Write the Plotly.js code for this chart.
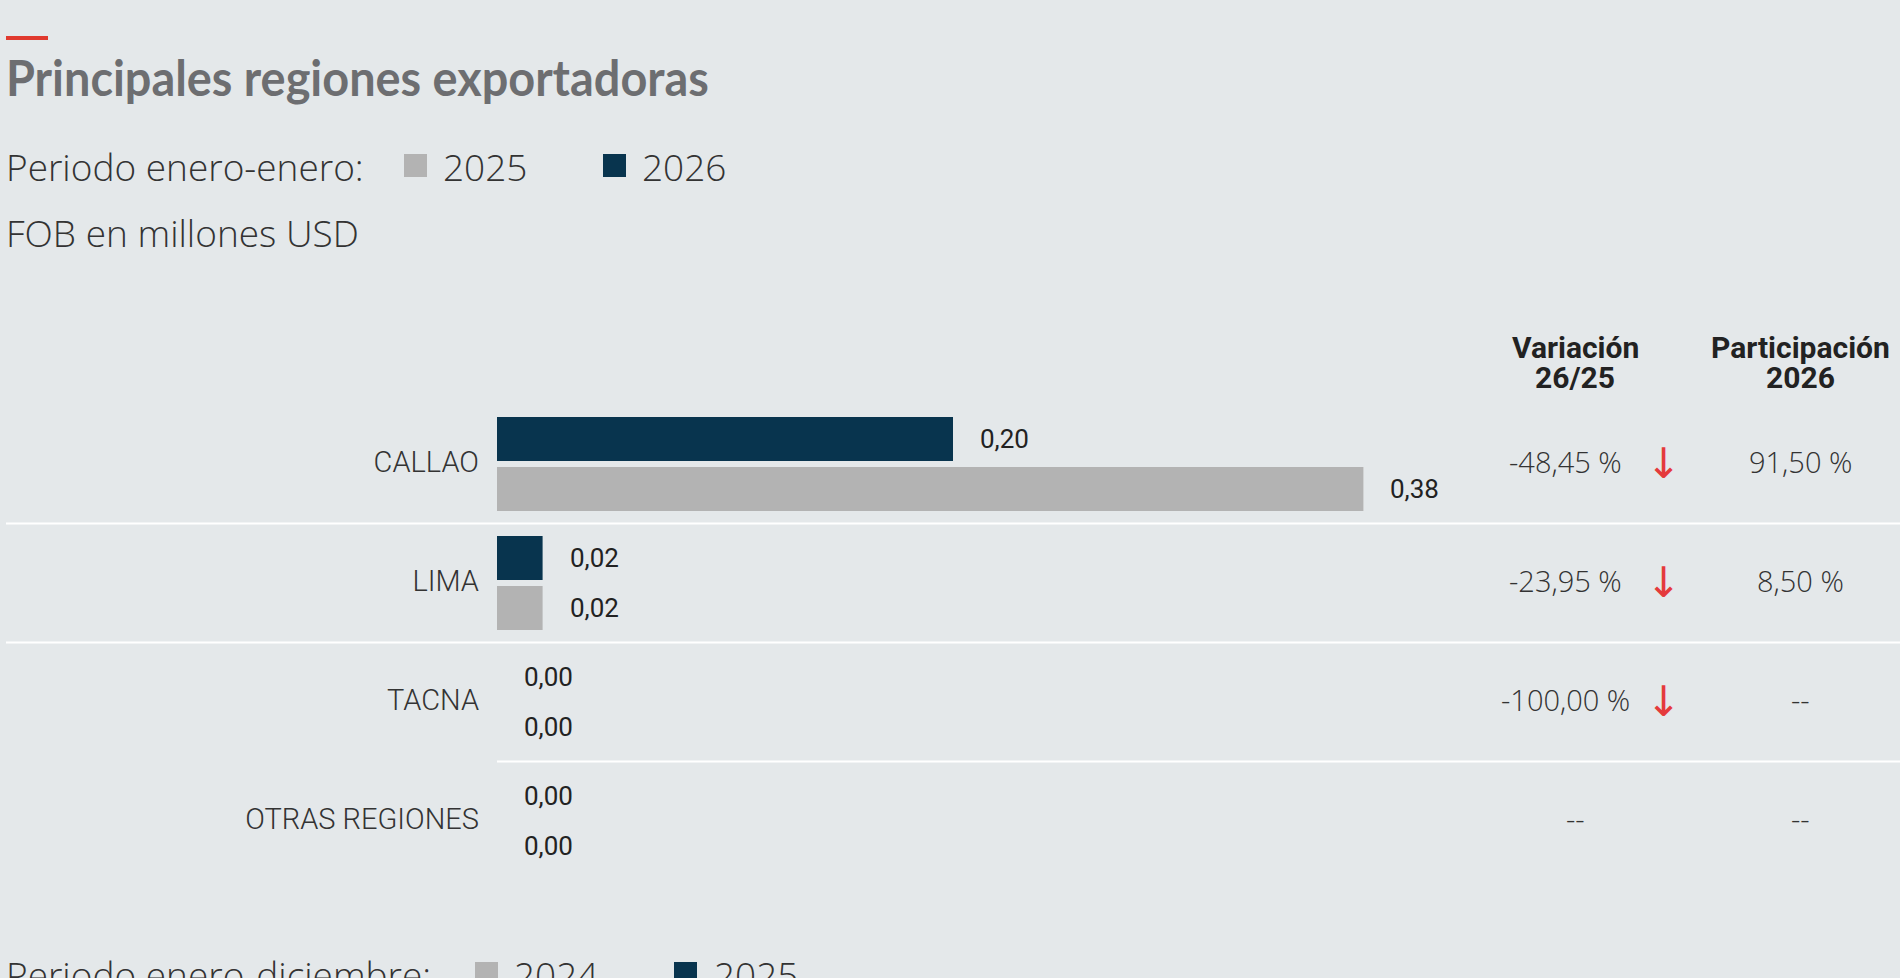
<!DOCTYPE html>
<html><head><meta charset="utf-8">
<script src="https://cdn.plot.ly/plotly-3.0.1.min.js"></script>
<style>html,body{margin:0;padding:0;background:#e4e8ea;overflow:hidden;}</style>
</head><body><div id="chart" style="width:1900px;height:978px;"></div>
<script>
// ---- data ----
const regiones = ['CALLAO', 'LIMA', 'TACNA', 'OTRAS REGIONES'];
const valores2026 = [0.20, 0.02, 0.00, 0.00];
const valores2025 = [0.38, 0.02, 0.00, 0.00];
const variacion = ['-48,45 %', '-23,95 %', '-100,00 %', '--'];
const tendencia = ['baja', 'baja', 'baja', ''];
const participacion = ['91,50 %', '8,50 %', '--', '--'];
const aniosPeriodo = ['2025', '2026'];
const aniosPeriodoAnual = ['2024', '2025'];
const tituloTexto = 'Principales regiones exportadoras';
const periodoTexto = 'Periodo enero-enero:';
const periodoAnualTexto = 'Periodo enero-diciembre:';
const unidadTexto = 'FOB en millones USD';
const cabeceraVariacion = ['Variación', '26/25'];
const cabeceraParticipacion = ['Participación', '2026'];

// ---- style ----
const W = 1900, H = 978;
const BG = '#e4e8ea';
const NAVY = '#08344e', GRAY = '#b3b3b3', RED = '#e03a2f', ARROW = '#e43a3c';
const TXT = '#333333';
const LIGHT = {family: 'Open Sans, Roboto, sans-serif', weight: 300, color: TXT};
const px = x => x / W;
const py = y => 1 - y / H;
const fmt = v => v.toFixed(2).replace('.', ',');

const traces = [
  {type: 'bar', orientation: 'h', name: aniosPeriodo[1], y: regiones, x: valores2026,
   marker: {color: NAVY}, hoverinfo: 'none'},
  {type: 'bar', orientation: 'h', name: aniosPeriodo[0], y: regiones, x: valores2025,
   marker: {color: GRAY}, hoverinfo: 'none'}
];

const annotations = [];
const shapes = [];

// red accent
shapes.push({type: 'rect', xref: 'paper', yref: 'paper', x0: px(6), x1: px(48), y0: py(36), y1: py(40),
  fillcolor: RED, line: {width: 0}});

// legend rows
function legendRow(label, years, yc, sqX, txtX) {
  annotations.push({xref: 'paper', yref: 'paper', x: px(4), y: py(yc), xanchor: 'left', yanchor: 'middle',
    text: label, showarrow: false, font: Object.assign({size: 37}, LIGHT)});
  const cols = [GRAY, NAVY];
  years.forEach((yr, i) => {
    shapes.push({type: 'rect', xref: 'paper', yref: 'paper', x0: px(sqX[i]), x1: px(sqX[i] + 23),
      y0: py(yc - 12), y1: py(yc + 11), fillcolor: cols[i], line: {width: 0}});
    annotations.push({xref: 'paper', yref: 'paper', x: px(txtX[i]), y: py(yc), xanchor: 'left', yanchor: 'middle',
      text: yr, showarrow: false, font: Object.assign({size: 37}, LIGHT)});
  });
}
legendRow(periodoTexto, aniosPeriodo, 166, [404, 603], [441, 640]);
legendRow(periodoAnualTexto, aniosPeriodoAnual, 974, [475, 674], [512, 712]);

annotations.push({xref: 'paper', yref: 'paper', x: px(4), y: py(232), xanchor: 'left', yanchor: 'middle',
  text: unidadTexto, showarrow: false, font: Object.assign({size: 37}, LIGHT)});

// column headers (one annotation per line for tight spacing)
const HEADFONT = {family: 'Roboto, sans-serif', size: 30, weight: 700, color: '#222222'};
[[cabeceraVariacion, 1575], [cabeceraParticipacion, 1800]].forEach(([lines, cx]) => {
  lines.forEach((t, k) => {
    annotations.push({xref: 'paper', yref: 'paper', x: px(cx), y: py(347 + 30 * k), xanchor: 'center', yanchor: 'middle',
      text: t, showarrow: false, font: HEADFONT});
  });
});

// per-row items
regiones.forEach((r, i) => {
  [[valores2026, -0.21], [valores2025, 0.21]].forEach(([arr, off]) => {
    annotations.push({xref: 'x', yref: 'y', x: arr[i], y: i + off, xanchor: 'left', yanchor: 'middle',
      xshift: 25, text: fmt(arr[i]), showarrow: false,
      font: {family: 'Roboto, sans-serif', size: 26, weight: 400, color: '#222222'}});
  });
  annotations.push({xref: 'paper', yref: 'y', x: px(tendencia[i] ? 1565 : 1575), y: i, yshift: 3,
    xanchor: 'center', yanchor: 'middle',
    text: variacion[i], showarrow: false, font: Object.assign({size: 29}, LIGHT)});
  if (tendencia[i] === 'baja') {
    annotations.push({xref: 'paper', yref: 'y', x: px(1663), y: i, yshift: 1, xanchor: 'center', yanchor: 'middle',
      text: '↓', showarrow: false, font: {family: 'Roboto, DejaVu Sans, sans-serif', size: 42, color: ARROW}});
  }
  annotations.push({xref: 'paper', yref: 'y', x: px(1800), y: i, yshift: 3, xanchor: 'center', yanchor: 'middle',
    text: participacion[i], showarrow: false, font: Object.assign({size: 29}, LIGHT)});
  if (i < regiones.length - 1) {
    shapes.push({type: 'line', xref: 'paper', yref: 'y', x0: i < 2 ? px(6) : px(497), x1: 1,
      y0: i + 0.5, y1: i + 0.5, line: {color: '#ffffff', width: 2}});
  }
});

const layout = {
  width: W, height: H,
  paper_bgcolor: BG, plot_bgcolor: BG,
  margin: {l: 0, r: 0, t: 0, b: 0, pad: 0},
  showlegend: false,
  barmode: 'group', bargap: 0.16, bargroupgap: 0.12,
  title: {text: tituloTexto, x: px(6), xanchor: 'left', xref: 'paper', y: py(79), yref: 'paper', yanchor: 'middle',
    font: {family: 'Lato, Roboto, sans-serif', size: 49, weight: 700, color: '#6d6e71'}},
  xaxis: {domain: [px(497), 1], range: [0, 1403 / 2280], visible: false, fixedrange: true},
  yaxis: {type: 'category', domain: [py(880.5), py(404.5)], range: [3.5, -0.5],
    showgrid: false, zeroline: false, showline: false, ticks: '', ticklabelstandoff: 17, ticklabelshift: 2,
    tickfont: {family: 'Roboto, sans-serif', weight: 300, color: TXT, size: 29}, fixedrange: true},
  shapes: shapes, annotations: annotations
};

Plotly.newPlot('chart', traces, layout, {staticPlot: true, displayModeBar: false}).then(gd => {
  // condensed look for the title: horizontally compress the real text element
  const t = gd.querySelector('.gtitle');
  if (t) {
    const bb = t.getBBox();
    const target = 703;
    if (bb.width > target) {
      const s = target / bb.width;
      t.setAttribute('transform', `translate(${bb.x},0) scale(${s},1) translate(${-bb.x},0)`);
    }
  }
});
</script>
</body></html>
